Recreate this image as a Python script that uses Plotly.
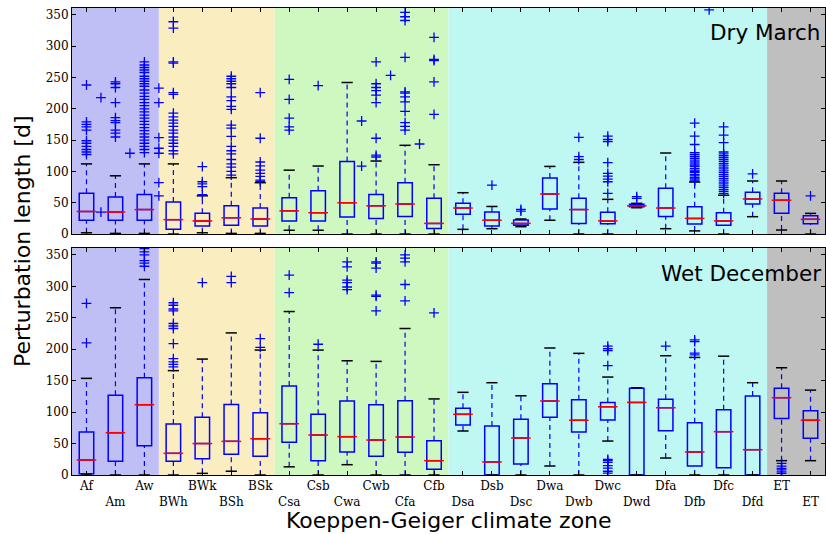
import plotly.graph_objects as go

cats = ["Af","Am","Aw","BWh","BWk","BSh","BSk","Csa","Csb","Cwa","Cwb","Cfa","Cfb",
        "Dsa","Dsb","Dsc","Dwa","Dwb","Dwc","Dwd","Dfa","Dfb","Dfc","Dfd","ET","ET"]

# ---- Dry March (top panel)
dry_q1  = [22, 22, 22, 7.5, 13, 14, 13, 21, 21, 27, 25, 28, 9, 31.5, 13, 14, 40, 17, 16.5, 43.6, 28, 16, 14, 48, 33, 16.5]
dry_med = [36, 35, 39, 23, 21, 26, 24, 37, 34, 50, 45, 48, 17, 41.5, 22, 17, 64, 39, 21, 45, 41.5, 25, 21, 56, 54, 23.5]
dry_q3  = [65, 59, 63, 51, 33, 45, 41.5, 58, 69, 116, 63, 82, 57, 49, 35, 22.4, 89.5, 57, 34.6, 47.4, 73, 43.6, 34, 66.6, 65, 29]
dry_lo  = [2, 1, 1, 0, 2, 1, 1, 6, 6, 0, 0, 0, 0, 7.5, 8.5, 11.7, 22, 0, 0, 42, 8.5, 5, 0, 27.7, 6.4, 0]
dry_hi  = [112, 93, 112, 112, 61, 90, 82, 102, 108.6, 242, 116.6, 141.7, 110.7, 66, 44, 24, 108, 114.5, 55.4, 49, 129.4, 83, 62, 84.7, 84.7, 33]
dry_out = [
    [238, 179, 175, 171, 166, 149, 145, 140, 135, 131, 127],
    [243, 240, 234, 210, 186, 181, 178, 166, 161, 155],
    [275, 270, 266, 262, 258, 252, 248, 244, 240, 236, 230, 225, 220, 215, 210, 205, 200,
     195, 190, 185, 180, 175, 170, 165, 160, 155, 150, 145, 140, 135, 130],
    [339, 329, 275, 273, 226, 223, 193, 187, 182, 177, 172, 166, 161, 155, 150, 145, 140, 133, 128],
    [107.5, 83.5, 80, 75.6, 63],
    [252, 248, 244, 240, 234, 219, 213, 204, 199, 174, 169, 156, 140, 133, 128, 119, 112, 107, 100, 94],
    [226, 153, 115, 109, 102, 97, 92, 86, 84],
    [247, 215, 185, 171, 166],
    [237],
    [],
    [275, 240, 234, 229, 222, 210, 153, 126, 123],
    [354, 347, 341, 282, 227, 225, 219, 211, 196, 178, 172, 166],
    [314, 279, 277, 243, 191],
    [],
    [78],
    [39.4, 36.7],
    [],
    [154.5, 123.5, 119],
    [156.5, 151, 147.5, 114, 97, 92.6, 87.8, 83.5, 65],
    [59.6, 57],
    [],
    [177, 156.5, 143, 130, 127, 124, 121, 118, 115, 112, 110, 108, 105, 102, 100, 98, 95, 93, 90, 88, 86, 84],
    [171, 158, 146, 131, 128, 125, 122, 119, 116, 113, 110, 107, 104, 101, 98, 95, 92, 89,
     86, 83, 80, 77, 74, 71, 68, 65],
    [96],
    [],
    [61],
]
dry_extra_x = [1.5, 1.5, 2.5, 3.5, 3.5, 3.5, 3.5, 3.5, 3.5, 3.5, 10.5, 10.5, 11.5, 12.5, 22.5]
dry_extra_y = [218, 35, 129, 233, 210, 154, 137, 129, 82, 61, 180.5, 108.6, 253.5, 143.8, 358]

# ---- Wet December (bottom panel)
wet_q1  = [2, 22, 46.6, 22, 26, 33, 30, 52, 22.8, 36.6, 30, 36, 9, 79.5, 0, 17.5, 91.7, 68.4, 87.4, 0, 70.5, 14.3, 11.6, 0, 90, 58.3]
wet_med = [23.8, 67.3, 111.8, 34.4, 50, 53.5, 57.7, 81.6, 63.6, 61, 55.6, 60.4, 22.8, 96.5, 20.7, 58.8, 117.6, 87, 108.6, 115.5, 107, 36.6, 68.9, 40.3, 123, 87]
wet_q3  = [68.4, 126.7, 154.7, 81, 92, 112, 99, 141.5, 96.5, 117.6, 111.8, 118, 54.5, 106, 78, 88.5, 145, 119.7, 115.5, 137.8, 120.3, 83.2, 103.8, 125.6, 137.8, 102]
wet_lo  = [0, 0, 0, 0, 2.6, 6, 0, 13, 0, 16.4, 0, 0, 0, 70, 0, 0, 14.3, 0, 54, 0, 27, 0, 0, 0, 22.8, 22.8]
wet_hi  = [153.7, 266, 311, 166, 184.4, 226, 198.7, 260, 198.7, 181.7, 180.7, 233, 121, 131.5, 146.8, 126, 202, 193.5, 155.8, 138.8, 189.7, 187, 189, 146.8, 170.6, 135]
wet_out = [
    [273, 210],
    [],
    [360, 355, 350, 341, 337, 332],
    [274, 270, 264, 261, 241, 237, 233, 209, 185, 180, 176, 172],
    [306],
    [316, 306],
    [217, 203],
    [318, 290],
    [208],
    [339, 331, 310, 306, 299, 295],
    [339, 337, 329, 286, 284, 261],
    [350, 345, 339, 303, 277],
    [258],
    [], [], [], [], [],
    [205, 201, 198, 174, 25, 23, 20, 15, 11, 6, 3],
    [],
    [205],
    [215, 212, 194, 191],
    [], [],
    [18.5, 14, 10.6, 8, 5, 2.6],
    [],
]
wet_extra_x = []
wet_extra_y = []

# climate-group background bands
band_edges = [0.5, 3.5, 7.5, 13.5, 24.5, 26.5]
band_colors = ["rgb(191,191,245)", "rgb(250,237,192)", "rgb(207,247,192)",
               "rgb(191,247,242)", "rgb(191,191,191)"]

pos = list(range(1, len(cats) + 1))
BLUE = "#0000ff"

fig = go.Figure()


def add_panel(q1, med, q3, lo, hi, out, ex_x, ex_y, xa, ya):
    fig.add_trace(go.Box(x=pos, q1=q1, median=med, q3=q3, lowerfence=q1, upperfence=q3,
                         width=0.5, whiskerwidth=0, boxpoints=False,
                         line=dict(color=BLUE, width=1.5), fillcolor="rgba(0,0,0,0)",
                         xaxis=xa, yaxis=ya, hoverinfo="skip", showlegend=False))
    wx, wy = [], []
    for p, a, b, c, d in zip(pos, lo, q1, q3, hi):
        wx += [p, p, None, p, p, None]
        wy += [a, b, None, c, d, None]
    fig.add_trace(go.Scatter(x=wx, y=wy, mode="lines",
                             line=dict(color=BLUE, width=1.2, dash="5px,4px"),
                             xaxis=xa, yaxis=ya, hoverinfo="skip", showlegend=False))
    fig.add_trace(go.Scatter(x=pos + pos, y=lo + hi, mode="markers",
                             marker=dict(symbol="line-ew", size=8, line=dict(color="black", width=1.5)),
                             xaxis=xa, yaxis=ya, hoverinfo="skip", showlegend=False))
    fig.add_trace(go.Scatter(x=pos, y=med, mode="markers",
                             marker=dict(symbol="line-ew", size=14, line=dict(color="red", width=1.5)),
                             xaxis=xa, yaxis=ya, hoverinfo="skip", showlegend=False))
    ox, oy = [], []
    for p, vals in zip(pos, out):
        ox += [p] * len(vals)
        oy += vals
    ox += ex_x
    oy += ex_y
    fig.add_trace(go.Scatter(x=ox, y=oy, mode="markers",
                             marker=dict(symbol="cross-thin", size=7, line=dict(color=BLUE, width=1.3)),
                             xaxis=xa, yaxis=ya, hoverinfo="skip", showlegend=False, cliponaxis=True))


add_panel(dry_q1, dry_med, dry_q3, dry_lo, dry_hi, dry_out, dry_extra_x, dry_extra_y, "x2", "y2")
add_panel(wet_q1, wet_med, wet_q3, wet_lo, wet_hi, wet_out, wet_extra_x, wet_extra_y, "x", "y")

shapes = []
for xr, yr in (("x", "y domain"), ("x2", "y2 domain")):
    for i, col in enumerate(band_colors):
        shapes.append(dict(type="rect", xref=xr, yref=yr, x0=band_edges[i], x1=band_edges[i + 1],
                           y0=0, y1=1, fillcolor=col, line=dict(width=0), layer="below"))

ticktext = [c if i % 2 == 0 else "<br>" + c for i, c in enumerate(cats)]

axis_common = dict(showline=True, linecolor="black", linewidth=1, mirror="ticks",
                   ticks="inside", ticklen=4, tickcolor="black", showgrid=False, zeroline=False,
                   automargin=False,
                   tickfont=dict(family="DejaVu Serif", size=12, color="black"))

fig.update_layout(
    width=826, height=534,
    margin=dict(l=72, r=1, t=8, b=59),
    paper_bgcolor="white", plot_bgcolor="white",
    shapes=shapes,
    xaxis=dict(domain=[0, 1], anchor="y", range=[0.5, 26.5], tickmode="array", tickangle=0,
               tickvals=pos, ticktext=ticktext, **axis_common),
    xaxis2=dict(domain=[0, 1], anchor="y2", range=[0.5, 26.5], matches="x", tickmode="array",
                tickvals=pos, showticklabels=False, **axis_common),
    yaxis=dict(domain=[0, 0.486], range=[0, 361], tickmode="array",
               tickvals=[0, 50, 100, 150, 200, 250, 300, 350], **axis_common),
    yaxis2=dict(domain=[0.516, 1], range=[0, 361], tickmode="array",
                tickvals=[0, 50, 100, 150, 200, 250, 300, 350], **axis_common),
    annotations=[
        dict(text="Dry March", xref="x2", yref="y2 domain", x=26.42, y=0.89,
             xanchor="right", yanchor="middle", showarrow=False,
             font=dict(family="DejaVu Sans", size=21.5, color="black")),
        dict(text="Wet December", xref="x", yref="y domain", x=26.42, y=0.89,
             xanchor="right", yanchor="middle", showarrow=False,
             font=dict(family="DejaVu Sans", size=21.5, color="black")),
        dict(text="Koeppen-Geiger climate zone", xref="paper", yref="paper", x=0.5007, y=-0.0964,
             xanchor="center", yanchor="middle", showarrow=False,
             font=dict(family="DejaVu Sans", size=22, color="black")),
        dict(text="Perturbation length [d]", xref="paper", yref="paper", x=-0.0664, y=0.501,
             xanchor="center", yanchor="middle", textangle=-90, showarrow=False,
             font=dict(family="DejaVu Sans", size=22, color="black")),
    ],
)

fig.write_html("out.html", config={"displayModeBar": False},
               post_script="document.body.style.margin='0';document.body.style.overflow='hidden';")
